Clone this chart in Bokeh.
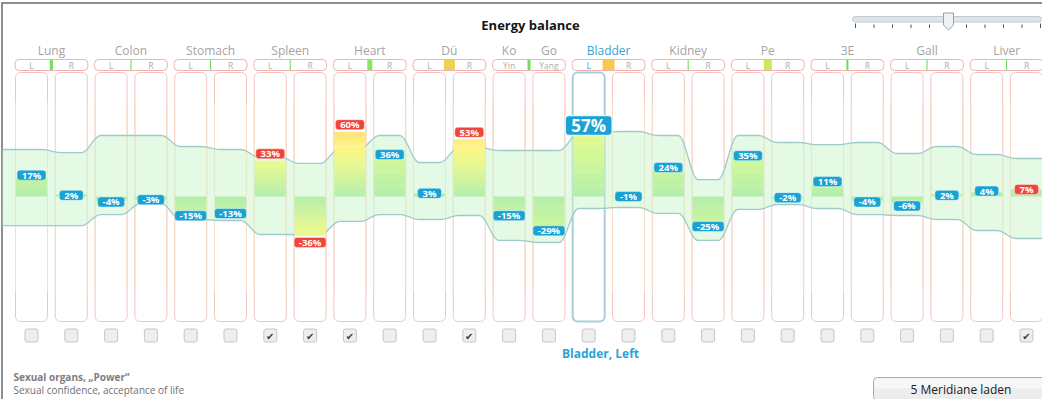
import math
import numpy as np
from bokeh.plotting import figure
from bokeh.models import ColumnDataSource, Range1d
from bokeh.core.properties import value
from bokeh.embed import file_html
from bokeh.resources import INLINE

# ---------------- data ----------------
meridians = ["Lung", "Colon", "Stomach", "Spleen", "Heart", "Dü", "Ko", "Go",
             "Bladder", "Kidney", "Pe", "3E", "Gall", "Liver"]
meridian_cols = [[0, 1], [2, 3], [4, 5], [6, 7], [8, 9], [10, 11], [12], [13],
                 [14, 15], [16, 17], [18, 19], [20, 21], [22, 23], [24, 25]]
side_labels = ["L", "R"] * 6 + ["Yin", "Yang"] + ["L", "R"] * 6
values = [17, 2, -4, -3, -15, -13, 33, -36, 60, 36, 3, 53, -15, -29,
          57, -1, 24, -25, 35, -2, 11, -4, -6, 2, 4, 7]
checked = [0, 0, 0, 0, 0, 0, 1, 1, 1, 0, 0, 1, 0, 0,
           0, 0, 0, 0, 0, 0, 0, 0, 0, 0, 0, 1]
band_upper = [43.5, 40.7, 56.5, 56.5, 46.3, 43.5, 36.1, 30.6, 44.4, 56.5, 31.5, 45.4, 42.6, 42.6,
              58.3, 60.2, 56.5, 15.7, 56.5, 50.0, 48.0, 50.0, 39.8, 46.3, 38.9, 35.2]
band_lower = [-26.9, -26.9, -16.7, -6.5, -21.3, -22.2, -35.2, -35.2, -23.1, -16.7, -21.3, -17.6, -40.7, -42.6,
              -11.1, -10.2, -15.7, -40.7, -12.0, -7.4, -11.1, -16.7, -17.6, -21.3, -31.5, -38.9]
pill_marker_px = [3, 1, 1, 1, 5, 11, 3, 12, 1, 8, 2, 1, 1]
selected = 14
selected_name = "Bladder, Left"
title = "Energy balance"
info_title = "Sexual organs, \u201ePower\u201c"
info_text = "Sexual confidence, acceptance of life"
button_text = "5 Meridiane laden"

# ---------------- layout (page pixels -> data) ----------------
PX0, PITCH, ZERO_Y, K = 39.0, 39.8, 204.0, 1.08


def X(px):
    return (px - PX0) / PITCH


def Y(py):
    return (ZERO_Y - py) / K


def W(px):
    return px / PITCH


def H(px):
    return px / K


ncol = len(values)
idx = np.arange(ncol)
FONT = value("Open Sans")

p = figure(width=1042, height=399, output_backend="svg", toolbar_location=None,
           x_range=Range1d(X(8), X(1050)), y_range=Range1d(Y(407), Y(8)),
           x_axis_location=None, y_axis_location=None, min_border=0)
p.grid.visible = False
p.outline_line_color = None
p.background_fill_color = "white"
p.border_fill_color = "white"

# frame lines
p.segment(x0=[X(9), X(9.5)], y0=[Y(10.5), Y(10)], x1=[X(1060), X(9.5)], y1=[Y(10.5), Y(420)],
          line_color="#6a6a6a", line_width=1.5)

# title
p.text(x=[X(538)], y=[Y(32)], text=[title], text_font=FONT, text_font_size=value("13px"),
       text_font_style="bold", text_color="#151515", text_align="center", text_baseline="middle")

# slider
p.quad(left=[X(860)], right=[X(1049)], top=[Y(24)], bottom=[Y(29.5)], border_radius=3,
       fill_color="#dfe4e8", line_color="#c2cad0")
tick_x = np.linspace(X(863), X(1048), 11)
tick_top = [Y(31)] + [Y(32)] * 9 + [Y(31)]
p.segment(x0=tick_x, x1=tick_x, y0=tick_top, y1=[Y(35.5)] * 11, line_color="#555555", line_width=1)
p.patch(x=[X(951), X(961), X(961), X(956), X(951)], y=[Y(20.5), Y(20.5), Y(32.5), Y(37.5), Y(32.5)],
        fill_color="#eef2f5", line_color="#98a2aa", line_width=1)

# meridian names
name_x = [float(np.mean(c)) for c in meridian_cols]
name_col = ["#3a9fd0" if selected in c else "#a4a4a4" for c in meridian_cols]
p.text(x=name_x, y=[Y(58)] * len(meridians), text=meridians, text_font=FONT,
       text_font_size=value("12px"), text_color=name_col, text_align="center", text_baseline="middle")

# header pills
pair_l = idx[0::2]
pair_r = idx[1::2]
half = W(16.5)
p.quad(left=pair_l - half, right=pair_r + half, top=[Y(67)] * len(pair_l), bottom=[Y(78)] * len(pair_l),
       border_radius=4, fill_color="white", line_color="#f2b0b0", line_width=1)
side_col = ["#3a9fd0" if i == selected else "#ababab" for i in idx]
p.text(x=idx, y=[Y(72.8)] * ncol, text=side_labels, text_font=FONT, text_font_size=value("8.5px"),
       text_color=side_col, text_align="center", text_baseline="middle")


def mix(c1, c2, t):
    return tuple(int(round(a + (b - a) * t)) for a, b in zip(c1, c2))


def ramp(stops, v):
    for (v0, c0), (v1, c1) in zip(stops[:-1], stops[1:]):
        if v <= v1:
            t = 0 if v1 == v0 else max(0.0, (v - v0) / (v1 - v0))
            return "#%02x%02x%02x" % mix(c0, c1, t)
    return "#%02x%02x%02x" % stops[-1][1]


marker_stops = [(0, (90, 215, 90)), (4, (120, 225, 90)), (8, (200, 235, 90)), (12, (250, 200, 80))]
mk_c = [ramp(marker_stops, w) for w in pill_marker_px]
mk_x = pair_l + 0.5
p.quad(left=mk_x - W(np.array(pill_marker_px)) / 2, right=mk_x + W(np.array(pill_marker_px)) / 2,
       top=[Y(67.5)] * len(mk_x), bottom=[Y(77.5)] * len(mk_x), fill_color=mk_c, line_color=None)

# column boxes
box_line = ["#a6cfda" if i == selected else "#f3c4c0" for i in idx]
box_w = [2 if i == selected else 1 for i in idx]
p.quad(left=idx - W(16), right=idx + W(16), top=[Y(80)] * ncol, bottom=[Y(329)] * ncol,
       border_radius=5, fill_color="white", line_color=box_line, line_width=box_w)
reg = [i for i in idx if i != selected]
p.segment(x0=np.array(reg) - W(16), x1=np.array(reg) - W(16), y0=[Y(110)] * len(reg), y1=[Y(300)] * len(reg),
          line_color="#f9dcc6", line_width=1)
p.segment(x0=np.array(reg) + W(16), x1=np.array(reg) + W(16), y0=[Y(110)] * len(reg), y1=[Y(300)] * len(reg),
          line_color="#f9dcc6", line_width=1)


# band
def smooth(vals, xs, f=0.25):
    out = []
    n = len(vals)
    for x in xs:
        if x <= 0:
            out.append(vals[0]); continue
        if x >= n - 1:
            out.append(vals[-1]); continue
        i = int(math.floor(x)); fr = x - i
        if fr <= f:
            out.append(vals[i])
        elif fr >= 1 - f:
            out.append(vals[i + 1])
        else:
            t = (fr - f) / (1 - 2 * f)
            s = (1 - math.cos(math.pi * t)) / 2
            out.append(vals[i] + (vals[i + 1] - vals[i]) * s)
    return out


bx = np.linspace(X(10), X(1060), 1400)
bu = smooth(band_upper, bx)
bl = smooth(band_lower, bx)
p.varea(x=bx, y1=bl, y2=bu, fill_color="#cdf6cd", fill_alpha=0.55)
p.line(x=bx, y=bu, line_color="#9fcaca", line_width=1.3)
p.line(x=bx, y=bl, line_color="#9fcaca", line_width=1.3)

# bars (gradient made of 1% slices)
normal_stops = [(0, (180, 238, 172)), (30, (205, 247, 154)), (60, (228, 250, 140))]
alarm_stops = [(0, (180, 238, 172)), (30, (232, 249, 144)), (45, (252, 246, 132)), (60, (255, 224, 120))]
sl, sr, st, sb, sc = [], [], [], [], []
for i, v in enumerate(values):
    stops = alarm_stops if checked[i] else normal_stops
    sgn = 1 if v >= 0 else -1
    n = abs(v)
    for lv in range(n):
        lo = lv
        hi = min(n, lv + 1.4)
        sl.append(i - W(15.5)); sr.append(i + W(15.5))
        a, b = sgn * lo, sgn * hi
        st.append(max(a, b)); sb.append(min(a, b))
        sc.append(ramp(stops, lv + 0.5))
p.quad(left=sl, right=sr, top=st, bottom=sb, fill_color=sc, line_color=None)

# value labels
lab_x, lab_y, lab_t, lab_w, lab_c, lab_h = [], [], [], [], [], []
for i, v in enumerate(values):
    if i == selected:
        continue
    sgn = 1 if v >= 0 else -1
    txt = f"{v}%"
    w = 14 + 5 * len(f"{abs(v)}%") + (3 if v < 0 else 0)
    if checked[i]:
        off = min(7, abs(v) * K - 8)
    else:
        off = max(-1.0, min(3, abs(v) * K - 3.2))
    lab_x.append(i); lab_y.append(v + sgn * H(off)); lab_t.append(txt); lab_w.append(w)
    lab_c.append("#f0453a" if checked[i] else "#19a2d3")
lab_x = np.array(lab_x, dtype=float); lab_y = np.array(lab_y); lab_w = np.array(lab_w, dtype=float)
p.quad(left=lab_x - W(lab_w) / 2, right=lab_x + W(lab_w) / 2, top=lab_y + H(5), bottom=lab_y - H(5),
       border_radius=3, fill_color=lab_c, line_color="white", line_width=0.6, line_alpha=0.7)
p.text(x=lab_x, y=lab_y, text=lab_t, text_font=FONT, text_font_size=value("9.5px"), text_font_style="bold",
       text_color="white", text_align="center", text_baseline="middle")

# selected big label
sv = values[selected]
sy = sv + H(9.5)
p.quad(left=[selected - W(23.5)], right=[selected + W(23.5)], top=[sy + H(10)], bottom=[sy - H(10)],
       border_radius=4, fill_color="#19a2d3", line_color="#e8f6fb", line_width=1.5)
p.text(x=[selected], y=[sy], text=[f"{sv}%"], text_font=FONT, text_font_size=value("17px"),
       text_font_style="bold", text_color="white", text_align="center", text_baseline="middle")

# checkboxes
p.quad(left=idx - W(6.5), right=idx + W(6.5), top=[Y(336.5)] * ncol, bottom=[Y(349.5)] * ncol,
       border_radius=2, fill_color="#eeeeee", line_color="#c6c6c6", line_width=1)
ck = [i for i in idx if checked[i]]
p.text(x=ck, y=[Y(343.5)] * len(ck), text=["\u2714"] * len(ck), text_font=value("DejaVu Sans"),
       text_font_size=value("10px"), text_color="#3c3c3c", text_align="center", text_baseline="middle")

# selection caption & info texts
p.text(x=[X(608)], y=[Y(361)], text=[selected_name], text_font=FONT, text_font_size=value("12px"),
       text_font_style="bold", text_color="#2ba3d6", text_align="center", text_baseline="middle")
p.text(x=[X(21)], y=[Y(384.5)], text=[info_title], text_font=FONT, text_font_size=value("10px"),
       text_font_style="bold", text_color="#7e7e7e", text_align="left", text_baseline="middle")
p.text(x=[X(21)], y=[Y(397.5)], text=[info_text], text_font=FONT, text_font_size=value("10px"),
       text_color="#707070", text_align="left", text_baseline="middle")

# button
p.quad(left=[X(881)], right=[X(1056)], top=[Y(385)], bottom=[Y(408)], border_radius=4,
       fill_color="#ededed", line_color="#adadad", line_width=1)
p.quad(left=[X(882)], right=[X(1055)], top=[Y(386)], bottom=[Y(396)], border_radius=3,
       fill_color="#f7f7f7", line_color=None)
p.text(x=[X(968.5)], y=[Y(396.5)], text=[button_text], text_font=FONT, text_font_size=value("12px"),
       text_color="#202020", text_align="center", text_baseline="middle")

open("out.html", "w").write(file_html(p, INLINE))
